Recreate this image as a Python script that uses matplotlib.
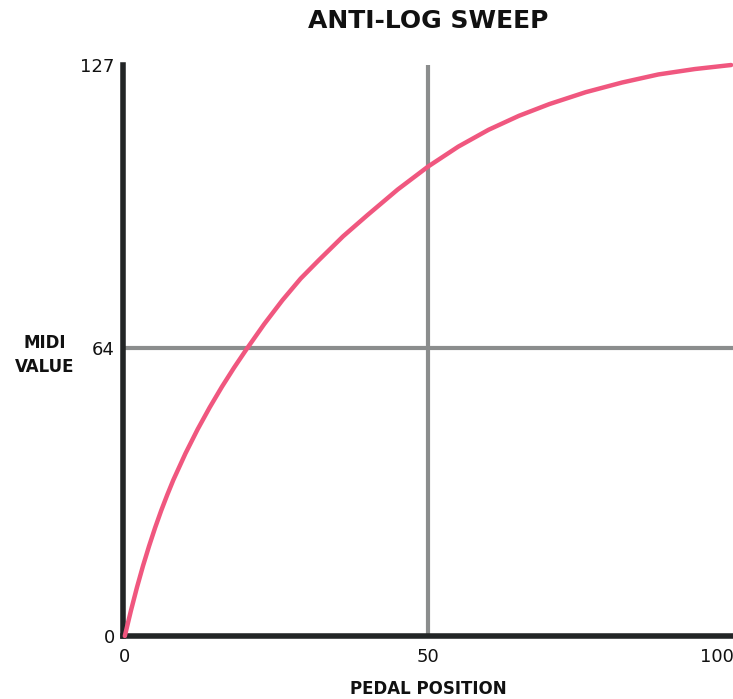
import matplotlib
matplotlib.use("Agg")
from matplotlib import pyplot as plt
import matplotlib.transforms as mtransforms

# values
pedal = [0, 1, 2, 3, 4, 5, 6, 7, 8, 10, 12, 14, 16, 18, 20, 23, 26, 29, 32,
         36, 40, 45, 50, 55, 60, 65, 70, 76, 82, 88, 94, 100]
midi = [0, 5.6, 10.8, 15.6, 20.0, 24.1, 27.9, 31.4, 34.7, 40.6, 45.95, 50.85,
        55.4, 59.65, 63.65, 69.4, 74.7, 79.5, 83.6, 88.9, 93.6, 99.3, 104.4,
        108.85, 112.6, 115.7, 118.3, 120.95, 123.1, 124.9, 126.1, 127]

x_ticks = [0, 50, 100]
y_ticks = [0, 64, 127]

title = "ANTI-LOG SWEEP"
x_label = "PEDAL POSITION"
y_label = "MIDI\nVALUE"

label_font = ["DejaVu Sans"]

fig = plt.figure(figsize=(7.33, 6.99), dpi=100)
ax = fig.add_axes([123 / 733, 1 - 636 / 699, 1 - 123 / 733, (636 - 65) / 699])

ax.axvline(50, color="#8b8d8d", lw=3, zorder=1)
ax.axhline(64, color="#8b8d8d", lw=3, zorder=1)
ax.plot(pedal, midi, color="#f0577f", lw=3.2, solid_capstyle="round",
        solid_joinstyle="round", clip_on=False, zorder=5)

ax.set_xlim(-0.3, 100.3)
ax.set_ylim(0, 127)
ax.set_xticks(x_ticks)
ax.set_yticks(y_ticks)
ax.tick_params(length=0, labelsize=13, pad=9, colors="#111111")
ax.tick_params(axis="y", pad=6)

# nudge the last x label like the reference
last = ax.get_xticklabels()[-1]
last.set_transform(last.get_transform() + mtransforms.ScaledTranslation(-14 / 100, 0, fig.dpi_scale_trans))

for side in ["top", "right"]:
    ax.spines[side].set_visible(False)
for side in ["left", "bottom"]:
    ax.spines[side].set_linewidth(4)
    ax.spines[side].set_color("#222526")
    ax.spines[side].set_zorder(4)

fig.text(428 / 733, 1 - 21 / 699, title, ha="center", va="center",
         fontsize=18, fontweight="bold", family=label_font, color="#111111")
fig.text(428 / 733, 1 - 689 / 699, x_label, ha="center", va="center",
         fontsize=12, fontweight="bold", family=label_font, color="#111111")
fig.text(45 / 733, 1 - 355 / 699, y_label, ha="center", va="center",
         fontsize=12, fontweight="bold", family=label_font, linespacing=1.45,
         color="#111111")

fig.savefig("out.png", dpi=100)
